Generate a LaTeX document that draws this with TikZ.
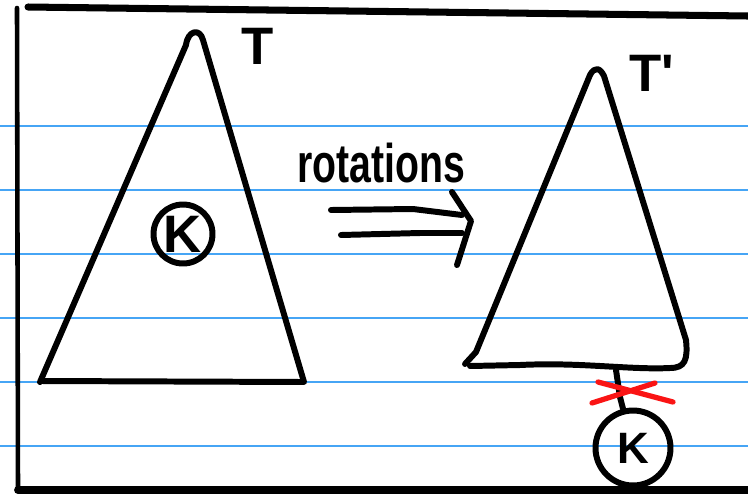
\documentclass[tikz,border=0pt]{standalone}
\usepackage{fontspec}
\setmainfont{Liberation Sans}
\usepackage{xcolor}
\usetikzlibrary{positioning}
\definecolor{ruleblue}{RGB}{70,165,245}
\definecolor{penred}{RGB}{250,20,20}

\begin{document}
\begin{tikzpicture}[
      x=0.02cm, y=-0.02cm,
      pen/.style={draw=black, line width=3.4pt, line cap=round, line join=round},
      rule/.style={draw=ruleblue, line width=0.8pt},
      knode/.style={circle, pen, inner sep=0pt, font=\bfseries\fontsize{30}{30}\selectfont},
      tlabel/.style={inner sep=0pt, font=\bfseries\fontsize{30}{30}\selectfont},
      cross/.style={draw=penred, line width=3pt, line cap=round}
  ]
  \useasboundingbox (0,0) rectangle (748,495);

  % Paper
  \foreach \y in {126,190,254,318,382,446}
    \draw [rule] (0,\y) -- (748,\y);
  \draw [pen, line width=2.6pt] (17,8) -- (18,490);
  \draw [pen, line width=4pt] (28,7) -- (748,16);
  \draw [pen, line width=4.5pt] (18,490) -- (748,490);

  % Trees
  \draw [pen] (40,382) -- (186,45) .. controls (188,30) and (200,28) .. (203,40)
    -- (304,382) -- (42,381);
  \draw [pen] (465,364) -- (476,352) -- (590,75) .. controls (595,66) and (600,68) .. (604,76)
    -- (686,340) .. controls (688,360) and (685,368) .. (670,368)
    .. controls (630,370) and (580,362) .. (520,365) -- (470,366);

  % Nodes
  \node (T) [tlabel] at (258,46) {T};
  \node (Tp) [tlabel] at (652,73) {T\textquotesingle};
  \node (K1) [knode, minimum size=1.18cm] at (183,234) {K};
  \node (K2) [knode, minimum size=1.5cm, font=\bfseries\fontsize{25}{25}\selectfont] at (633,448) {K};
  \node (rot) [inner sep=0pt, xscale=0.72, font=\bfseries\fontsize{31}{31}\selectfont] at (381,163) {rotations};
  \coordinate (root) at (616,370);

  % Arrows
  \coordinate (arrA) at (331,210);
  \coordinate (arrB) at (341,235);
  \coordinate (tip) at (471,221);
  \draw [pen] (arrA) -- (413,209) -- (462,215);
  \draw [pen] (arrB) -- (420,233) -- (462,233);
  \draw [pen] (452,192) -- (tip) -- (457,265);

  % Cut edge
  \draw [pen] (root) -- (620,397) -- (K2);
  \draw [cross] (598,382) -- (673,402);
  \draw [cross] (592,403) -- (655,383);

\end{tikzpicture}
\end{document}
